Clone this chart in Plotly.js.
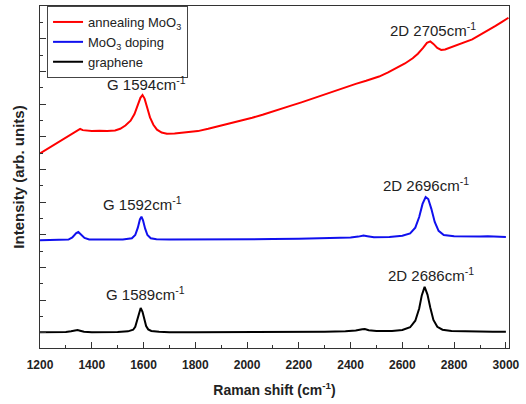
<!DOCTYPE html>
<html>
<head>
<meta charset="utf-8">
<script src="https://cdn.plot.ly/plotly-3.0.1.min.js"></script>
<style>html,body{margin:0;padding:0;background:#fff;}#chart{width:526px;height:404px;}</style>
</head>
<body>
<div id="chart"></div>
<script>
// Raman shift (cm^-1) and intensity (arb. units, offset) per spectrum
const grapheneX = [1200,1250,1300,1320,1335,1345,1355,1370,1400,1450,1500,1540,1560,1568,1575,1582,1589,1596,1603,1610,1618,1630,1660,1700,1800,1900,2000,2100,2200,2300,2380,2420,2445,2455,2470,2500,2560,2600,2630,2650,2665,2675,2686,2697,2708,2720,2735,2755,2790,2850,2900,2950,3000];
const grapheneY = [0.05,0.05,0.06,0.1,0.16,0.18,0.14,0.08,0.05,0.05,0.06,0.1,0.2,0.38,0.75,1.25,1.53,1.3,0.78,0.42,0.22,0.12,0.07,0.05,0.05,0.05,0.06,0.06,0.07,0.08,0.1,0.15,0.23,0.24,0.17,0.12,0.12,0.18,0.35,0.75,1.5,2.3,2.82,2.35,1.55,0.8,0.38,0.2,0.12,0.09,0.08,0.08,0.08];

const dopingX = [1200,1280,1310,1325,1340,1348,1358,1372,1390,1450,1520,1555,1568,1578,1586,1592,1598,1606,1615,1628,1650,1700,1800,1900,2000,2100,2200,2300,2400,2430,2450,2465,2490,2550,2600,2630,2650,2665,2678,2690,2700,2712,2725,2740,2760,2800,2850,2900,2930,2960,3000];
const dopingY = [5.68,5.68,5.72,5.85,6.12,6.18,6.05,5.82,5.72,5.7,5.72,5.8,6.0,6.45,6.95,7.12,6.9,6.4,6.0,5.8,5.74,5.72,5.72,5.72,5.74,5.75,5.77,5.8,5.84,5.9,5.96,5.92,5.86,5.88,5.95,6.1,6.45,7.1,7.9,8.32,8.2,7.6,6.8,6.25,6.0,5.92,5.9,5.9,5.92,5.9,5.88];

const annealX = [1200,1230,1260,1290,1320,1340,1355,1365,1380,1400,1430,1460,1490,1510,1530,1550,1565,1578,1588,1596,1604,1614,1625,1638,1652,1670,1690,1720,1750,1780,1810,1850,1890,1935,1980,2020,2060,2100,2130,2170,2210,2255,2300,2340,2385,2420,2460,2510,2545,2580,2610,2640,2660,2680,2695,2708,2720,2735,2750,2765,2790,2815,2840,2870,2900,2930,2960,2985,3010];
const annealY = [11.0,11.3,11.6,11.9,12.2,12.4,12.5,12.42,12.38,12.36,12.38,12.36,12.4,12.5,12.7,13.0,13.4,13.9,14.4,14.57,14.35,13.8,13.2,12.75,12.45,12.27,12.2,12.22,12.26,12.3,12.36,12.5,12.65,12.84,13.02,13.18,13.36,13.55,13.7,13.92,14.12,14.37,14.6,14.82,15.06,15.25,15.44,15.7,15.95,16.24,16.5,16.82,17.1,17.45,17.76,17.85,17.7,17.45,17.33,17.36,17.5,17.65,17.78,17.98,18.25,18.5,18.8,19.05,19.3];

const seriesNames = ['annealing MoO<sub>3</sub>','MoO<sub>3</sub> doping','graphene'];

const peakLabels = ['G 1594cm<sup>-1</sup>','2D 2705cm<sup>-1</sup>','G 1592cm<sup>-1</sup>','2D 2696cm<sup>-1</sup>','G 1589cm<sup>-1</sup>','2D 2686cm<sup>-1</sup>'];
const peakLabelX = [1612,2718,1597,2692,1607,2712];
const peakLabelY = [15.3,18.6,7.9,9.1,2.4,3.55];

const xTickVals = [1200,1400,1600,1800,2000,2200,2400,2600,2800,3000];

const traces = [
  {x: annealX, y: annealY, name: seriesNames[0], mode:'lines', line:{color:'#ff0000', width:2}},
  {x: dopingX, y: dopingY, name: seriesNames[1], mode:'lines', line:{color:'#1010ee', width:2}},
  {x: grapheneX, y: grapheneY, name: seriesNames[2], mode:'lines', line:{color:'#000000', width:2}}
];

const annotations = peakLabels.map((t,i)=>({
  x: peakLabelX[i], y: peakLabelY[i], text: t, showarrow:false,
  xanchor:'center', yanchor:'middle',
  font:{family:'Liberation Sans, Arial, sans-serif', size:15, color:'#222'}
}));

const layout = {
  width:526, height:404,
  margin:{l:40, r:17, t:6, b:56},
  paper_bgcolor:'#fff', plot_bgcolor:'#fff',
  showlegend:true,
  legend:{x:0.015, y:1, xanchor:'left', yanchor:'top', bordercolor:'#444', borderwidth:1,
          bgcolor:'#fff', font:{family:'Liberation Sans, Arial, sans-serif', size:13, color:'#222'},
          itemwidth:30, tracegroupgap:0},
  xaxis:{range:[1200,3012], tickvals:xTickVals, ticktext:xTickVals.map(String),
         ticks:'inside', ticklen:6, tickwidth:1, tickcolor:'#333', ticklabelstandoff:5,
         minor:{dtick:100, ticks:'inside', ticklen:3, tickcolor:'#333', showgrid:false},
         showline:true, linecolor:'#333', linewidth:1.2, mirror:true,
         showgrid:false, zeroline:false,
         tickfont:{family:'Liberation Sans, Arial, sans-serif', size:12, color:'#222', weight:'bold'},
         title:{text:'<b>Raman shift (cm<sup>-1</sup>)</b>', standoff:14,
                font:{family:'Liberation Sans, Arial, sans-serif', size:14, color:'#222'}}},
  yaxis:{range:[-0.92,20.02], dtick:2, tick0:0, showticklabels:false,
         ticks:'inside', ticklen:6, tickwidth:1, tickcolor:'#333',
         minor:{dtick:1, ticks:'inside', ticklen:3, tickcolor:'#333', showgrid:false},
         showline:true, linecolor:'#333', linewidth:1.2, mirror:true,
         showgrid:false, zeroline:false,
         title:{text:'<b>Intensity (arb. units)</b>', standoff:10,
                font:{family:'Liberation Sans, Arial, sans-serif', size:15, color:'#222'}}},
  annotations: annotations
};

Plotly.newPlot('chart', traces, layout, {displayModeBar:false, staticPlot:true});
</script>
</body>
</html>
